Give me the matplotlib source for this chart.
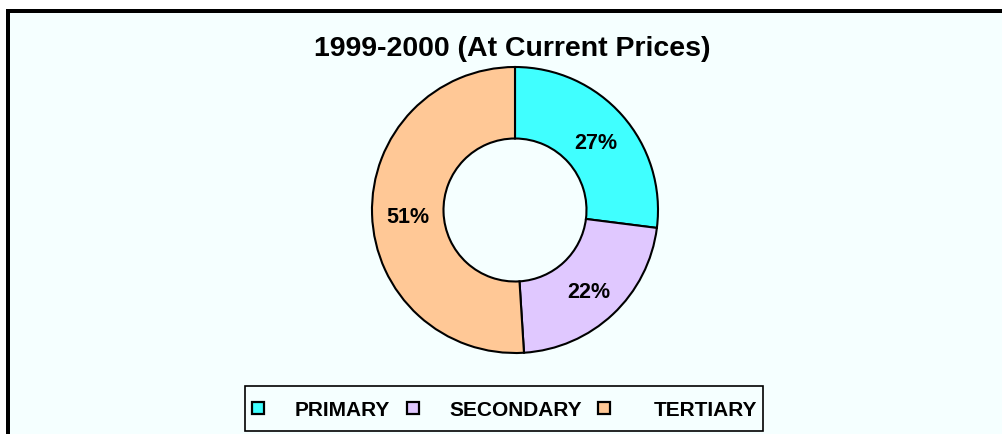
import matplotlib
matplotlib.use("Agg")
import matplotlib.pyplot as plt
import matplotlib.transforms as mtransforms
from matplotlib.patches import Rectangle

categories = ["PRIMARY", "SECONDARY", "TERTIARY"]
shares = [27, 22, 51]
colors = ["#40FFFF", "#E0C8FF", "#FFC896"]
title = "1999-2000 (At Current Prices)"

plt.rcParams['font.family'] = ['Liberation Sans', 'DejaVu Sans']

W, H = 1002, 434
fig = plt.figure(figsize=(W / 100, H / 100), dpi=100)
fig.patch.set_facecolor("white")

def px(x0, y0, w, h):
    # pixel box (from top-left) -> figure fraction rect
    return (x0 / W, 1 - (y0 + h) / H, w / W, h / H)

# background panel and frame
bx = px(10, 13, W - 10, H - 13)
fig.patches.append(Rectangle(bx[:2], bx[2], bx[3], transform=fig.transFigure,
                             facecolor="#F5FFFF", edgecolor="none", zorder=-5))
tl = px(6, 9, W - 6, 4)
fig.patches.append(Rectangle(tl[:2], tl[2], tl[3], transform=fig.transFigure,
                             facecolor="black", edgecolor="none", zorder=-4))
ll = px(6, 9, 4, H - 9)
fig.patches.append(Rectangle(ll[:2], ll[2], ll[3], transform=fig.transFigure,
                             facecolor="black", edgecolor="none", zorder=-4))

# donut axes: centre (515,210), radius 143 px
cx, cy, r = 515, 210, 143
ax = fig.add_axes(px(cx - r, cy - r, 2 * r, 2 * r))
ax.set_zorder(2)
ax.set_facecolor("none")
wedges, texts, autotexts = ax.pie(
    shares, colors=colors, startangle=90, counterclock=False,
    radius=1.0, autopct='%.0f%%', pctdistance=0.75,
    wedgeprops=dict(width=0.5, edgecolor="black", linewidth=1.5),
    textprops=dict(fontsize=15.5, fontweight="bold", color="black"))
shift = mtransforms.ScaledTranslation(0, -4 / 100, fig.dpi_scale_trans)
for t in autotexts:
    t.set_transform(t.get_transform() + shift)
ax.set_xlim(-1, 1)
ax.set_ylim(-1, 1)
ax.set_aspect("equal")
ax.axis("off")

fig.text(512 / W, 1 - 56 / H, title, ha="center", va="baseline",
         fontsize=20.5, fontweight="bold")

# legend box drawn manually
lb = px(245, 386, 518, 45)
fig.patches.append(Rectangle(lb[:2], lb[2], lb[3], transform=fig.transFigure,
                             facecolor="none", edgecolor="black", linewidth=1.2, zorder=3))
marker_x = [258, 413, 604]
text_right = [390, 582, 757]
ly = 408
for name, col, mx, tr in zip(categories, colors, marker_x, text_right):
    m = px(mx - 6, ly - 6, 12, 12)
    fig.patches.append(Rectangle(m[:2], m[2], m[3], transform=fig.transFigure,
                                 facecolor=col, edgecolor="black", linewidth=1.6, zorder=4))
    fig.text(tr / W, 1 - ly / H, name, ha="right", va="center_baseline",
             fontsize=15, fontweight="bold")

fig.savefig("out.png", dpi=100, facecolor=fig.get_facecolor())
